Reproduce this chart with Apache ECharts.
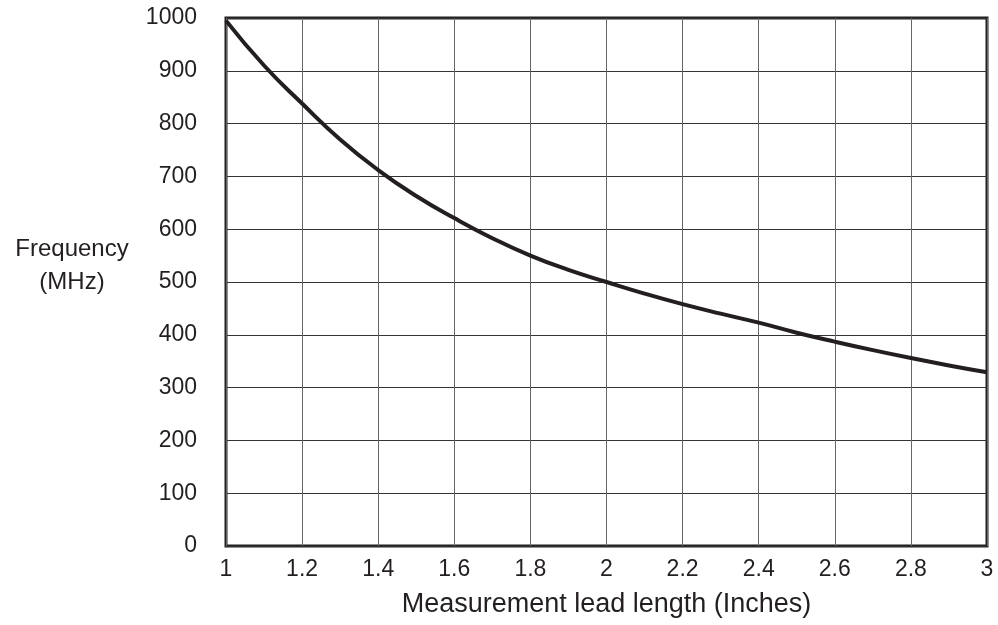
<!DOCTYPE html>
<html><head><meta charset="utf-8">
<script src="https://cdn.jsdelivr.net/npm/echarts@6/dist/echarts.min.js"></script>
<style>html,body{margin:0;padding:0;background:#fff}#c{width:998px;height:625px}</style>
</head><body><div id="c"></div>
<script>
const leadLength = [1.0, 1.1, 1.2, 1.3, 1.4, 1.5, 1.6, 1.7, 1.8, 1.9, 2.0, 2.1, 2.2, 2.3, 2.4, 2.5, 2.6, 2.7, 2.8, 2.9, 3.0];
const frequency  = [995, 910, 838, 770, 712, 663, 621, 583, 550, 523, 500, 478, 458, 440, 423, 404, 387, 371, 356, 342, 329];
const xTitle = 'Measurement lead length (Inches)';
const yTitle = 'Frequency\n(MHz)\n ';

const FONT = '"Liberation Sans", Arial, Helvetica, sans-serif';
const chart = echarts.init(document.getElementById('c'));
chart.setOption({
  animation: false,
  backgroundColor: '#fff',
  grid: { left: 226, right: 11, top: 18, bottom: 79, show: true, borderColor: '#231f20', borderWidth: 3, backgroundColor: 'transparent' },
  xAxis: {
    type: 'value', min: 1, max: 3, interval: 0.2,
    name: xTitle, nameLocation: 'middle', nameGap: 45,
    nameTextStyle: { fontFamily: FONT, fontSize: 27, color: '#231f20' },
    axisLine: { show: false }, axisTick: { show: false },
    axisLabel: { fontFamily: FONT, fontSize: 23, color: '#231f20', margin: 12 },
    splitLine: { show: true, lineStyle: { color: '#666', width: 1 } }
  },
  yAxis: {
    type: 'value', min: 0, max: 1000, interval: 100,
    name: yTitle, nameLocation: 'middle', nameGap: 154, nameRotate: 0,
    nameTextStyle: { fontFamily: FONT, fontSize: 24, color: '#231f20', align: 'center', verticalAlign: 'middle', lineHeight: 33 },
    axisLine: { show: false }, axisTick: { show: false },
    axisLabel: { fontFamily: FONT, fontSize: 23, color: '#231f20', margin: 29, formatter: v => String(v) },
    splitLine: { show: true, lineStyle: { color: '#333', width: 1 } }
  },
  series: [{
    type: 'line', smooth: true, showSymbol: false,
    data: leadLength.map((x, i) => [x, frequency[i]]),
    lineStyle: { color: '#231f20', width: 4 }
  }]
});
</script></body></html>
